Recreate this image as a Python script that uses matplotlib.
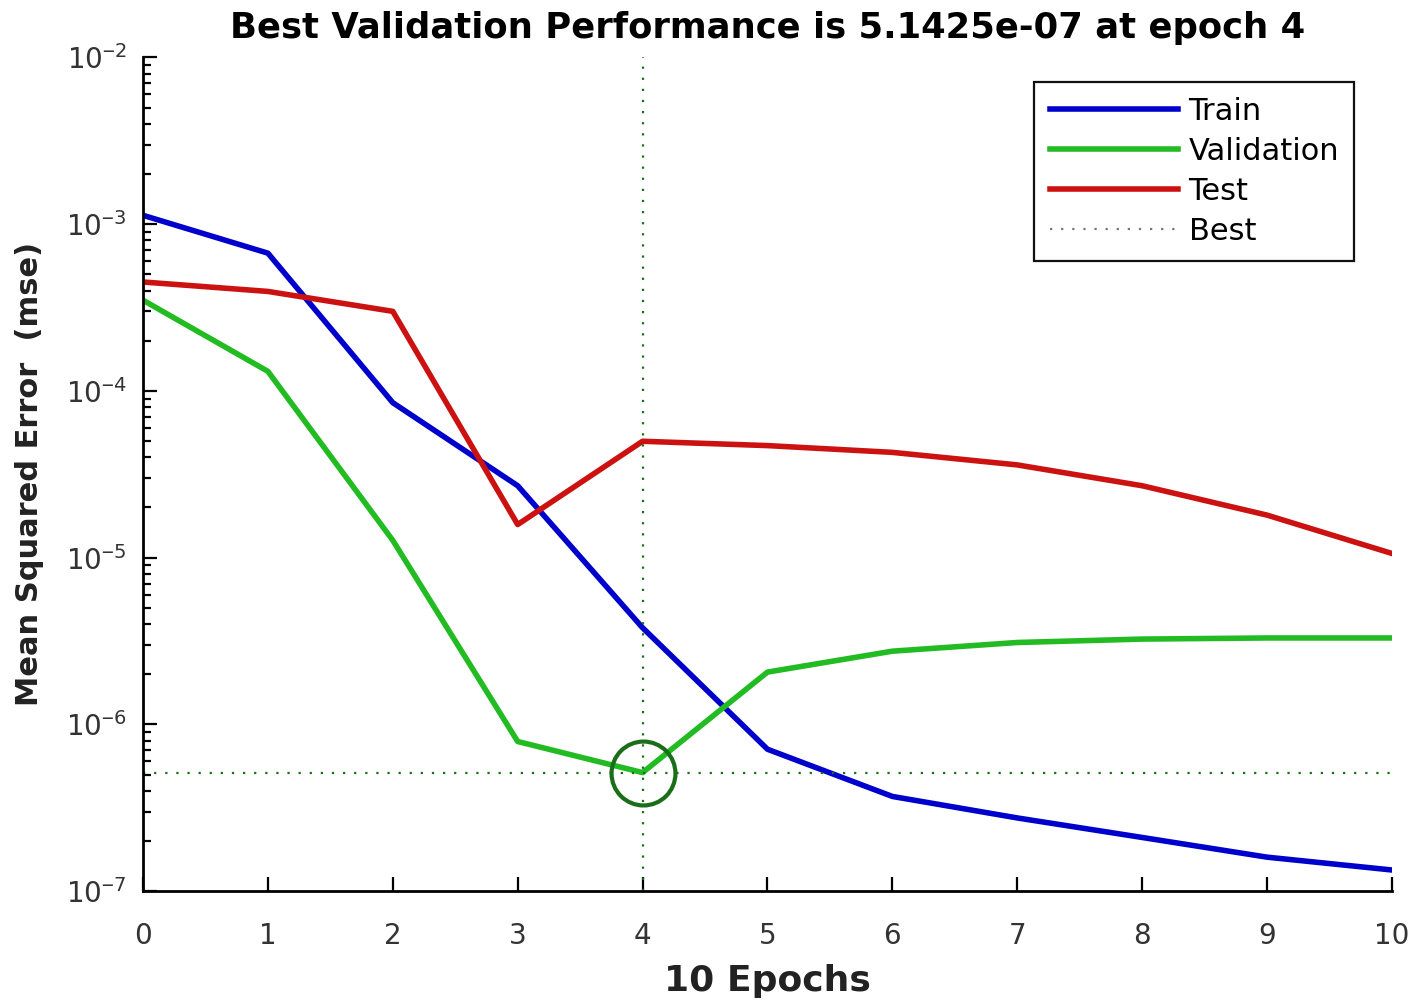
import matplotlib
matplotlib.use("Agg")
import matplotlib.pyplot as plt
from matplotlib.ticker import LogLocator, FixedLocator, FuncFormatter
import numpy as np

plt.rcParams["font.family"] = ["DejaVu Sans"]
plt.rcParams["mathtext.default"] = "regular"

epochs = [0, 1, 2, 3, 4, 5, 6, 7, 8, 9, 10]
train = [1.13e-3, 6.7e-4, 8.5e-5, 2.7e-5, 3.8e-6, 7.1e-7, 3.7e-7, 2.75e-7, 2.1e-7, 1.6e-7, 1.34e-7]
validation = [3.5e-4, 1.31e-4, 1.27e-5, 7.9e-7, 5.1425e-7, 2.06e-6, 2.75e-6, 3.1e-6, 3.25e-6, 3.3e-6, 3.3e-6]
test = [4.5e-4, 3.95e-4, 3.0e-4, 1.58e-5, 4.99e-5, 4.7e-5, 4.28e-5, 3.6e-5, 2.7e-5, 1.8e-5, 1.06e-5]
best_epoch = 4
best_perf = 5.1425e-07

fig = plt.figure(figsize=(14.16, 10.07), dpi=100)
ax = fig.add_axes([0.101, 0.115, 0.882, 0.828])

ax.plot(epochs, train, color="#0000cc", lw=4, label="Train")
ax.plot(epochs, validation, color="#22bb22", lw=4, label="Validation")
ax.plot(epochs, test, color="#cc1111", lw=4, label="Test")
ax.axhline(best_perf, color="#1a6e1a", lw=1.6, ls=(0, (1, 4)), label="Best")
ax.axvline(best_epoch, color="#1a6e1a", lw=1.6, ls=(0, (1, 4)))
ax.plot([best_epoch], [best_perf], "o", ms=46, mfc="none", mec="#1a6e1a", mew=3)

ax.set_yscale("log")
ax.set_xlim(0, 10)
ax.set_ylim(1e-7, 1e-2)
ax.xaxis.set_major_locator(FixedLocator(epochs))
ax.yaxis.set_major_locator(LogLocator(base=10, numticks=10))
ax.yaxis.set_minor_locator(LogLocator(base=10, subs=range(2, 10), numticks=10))


def log_label(v, pos):
    e = int(round(np.log10(v)))
    return "10$^{\\mathtt{-}" + str(abs(e)) + "}$" if e < 0 else "10$^{%d}$" % e


ax.yaxis.set_major_formatter(FuncFormatter(log_label))

for s in ["top", "right"]:
    ax.spines[s].set_visible(False)
for s in ["left", "bottom"]:
    ax.spines[s].set_linewidth(2)
ax.tick_params(which="both", direction="in", width=1.6, labelsize=20, labelcolor="#333333")
ax.tick_params(which="major", length=10)
ax.tick_params(which="minor", length=6)
ax.tick_params(axis="x", pad=22)
ax.tick_params(axis="y", pad=12)

ax.set_xlabel("10 Epochs", fontsize=26, fontweight="bold", labelpad=10, color="#222222")
ax.set_ylabel("Mean Squared Error  (mse)", fontsize=22, fontweight="bold", labelpad=16, color="#222222")
ax.set_title("Best Validation Performance is 5.1425e-07 at epoch 4",
             fontsize=25.5, fontweight="bold", pad=14)

leg = ax.legend(loc="upper right", bbox_to_anchor=(0.97, 0.971), borderaxespad=0,
                fontsize=22, handlelength=4.2, handletextpad=0.35, labelspacing=0.36,
                fancybox=False, framealpha=1, edgecolor="#111111",
                borderpad=0.5)
leg.get_frame().set_linewidth(1.6)
leg.get_lines()[3].set_color("#777777")

fig.savefig("out.png", dpi=100)
